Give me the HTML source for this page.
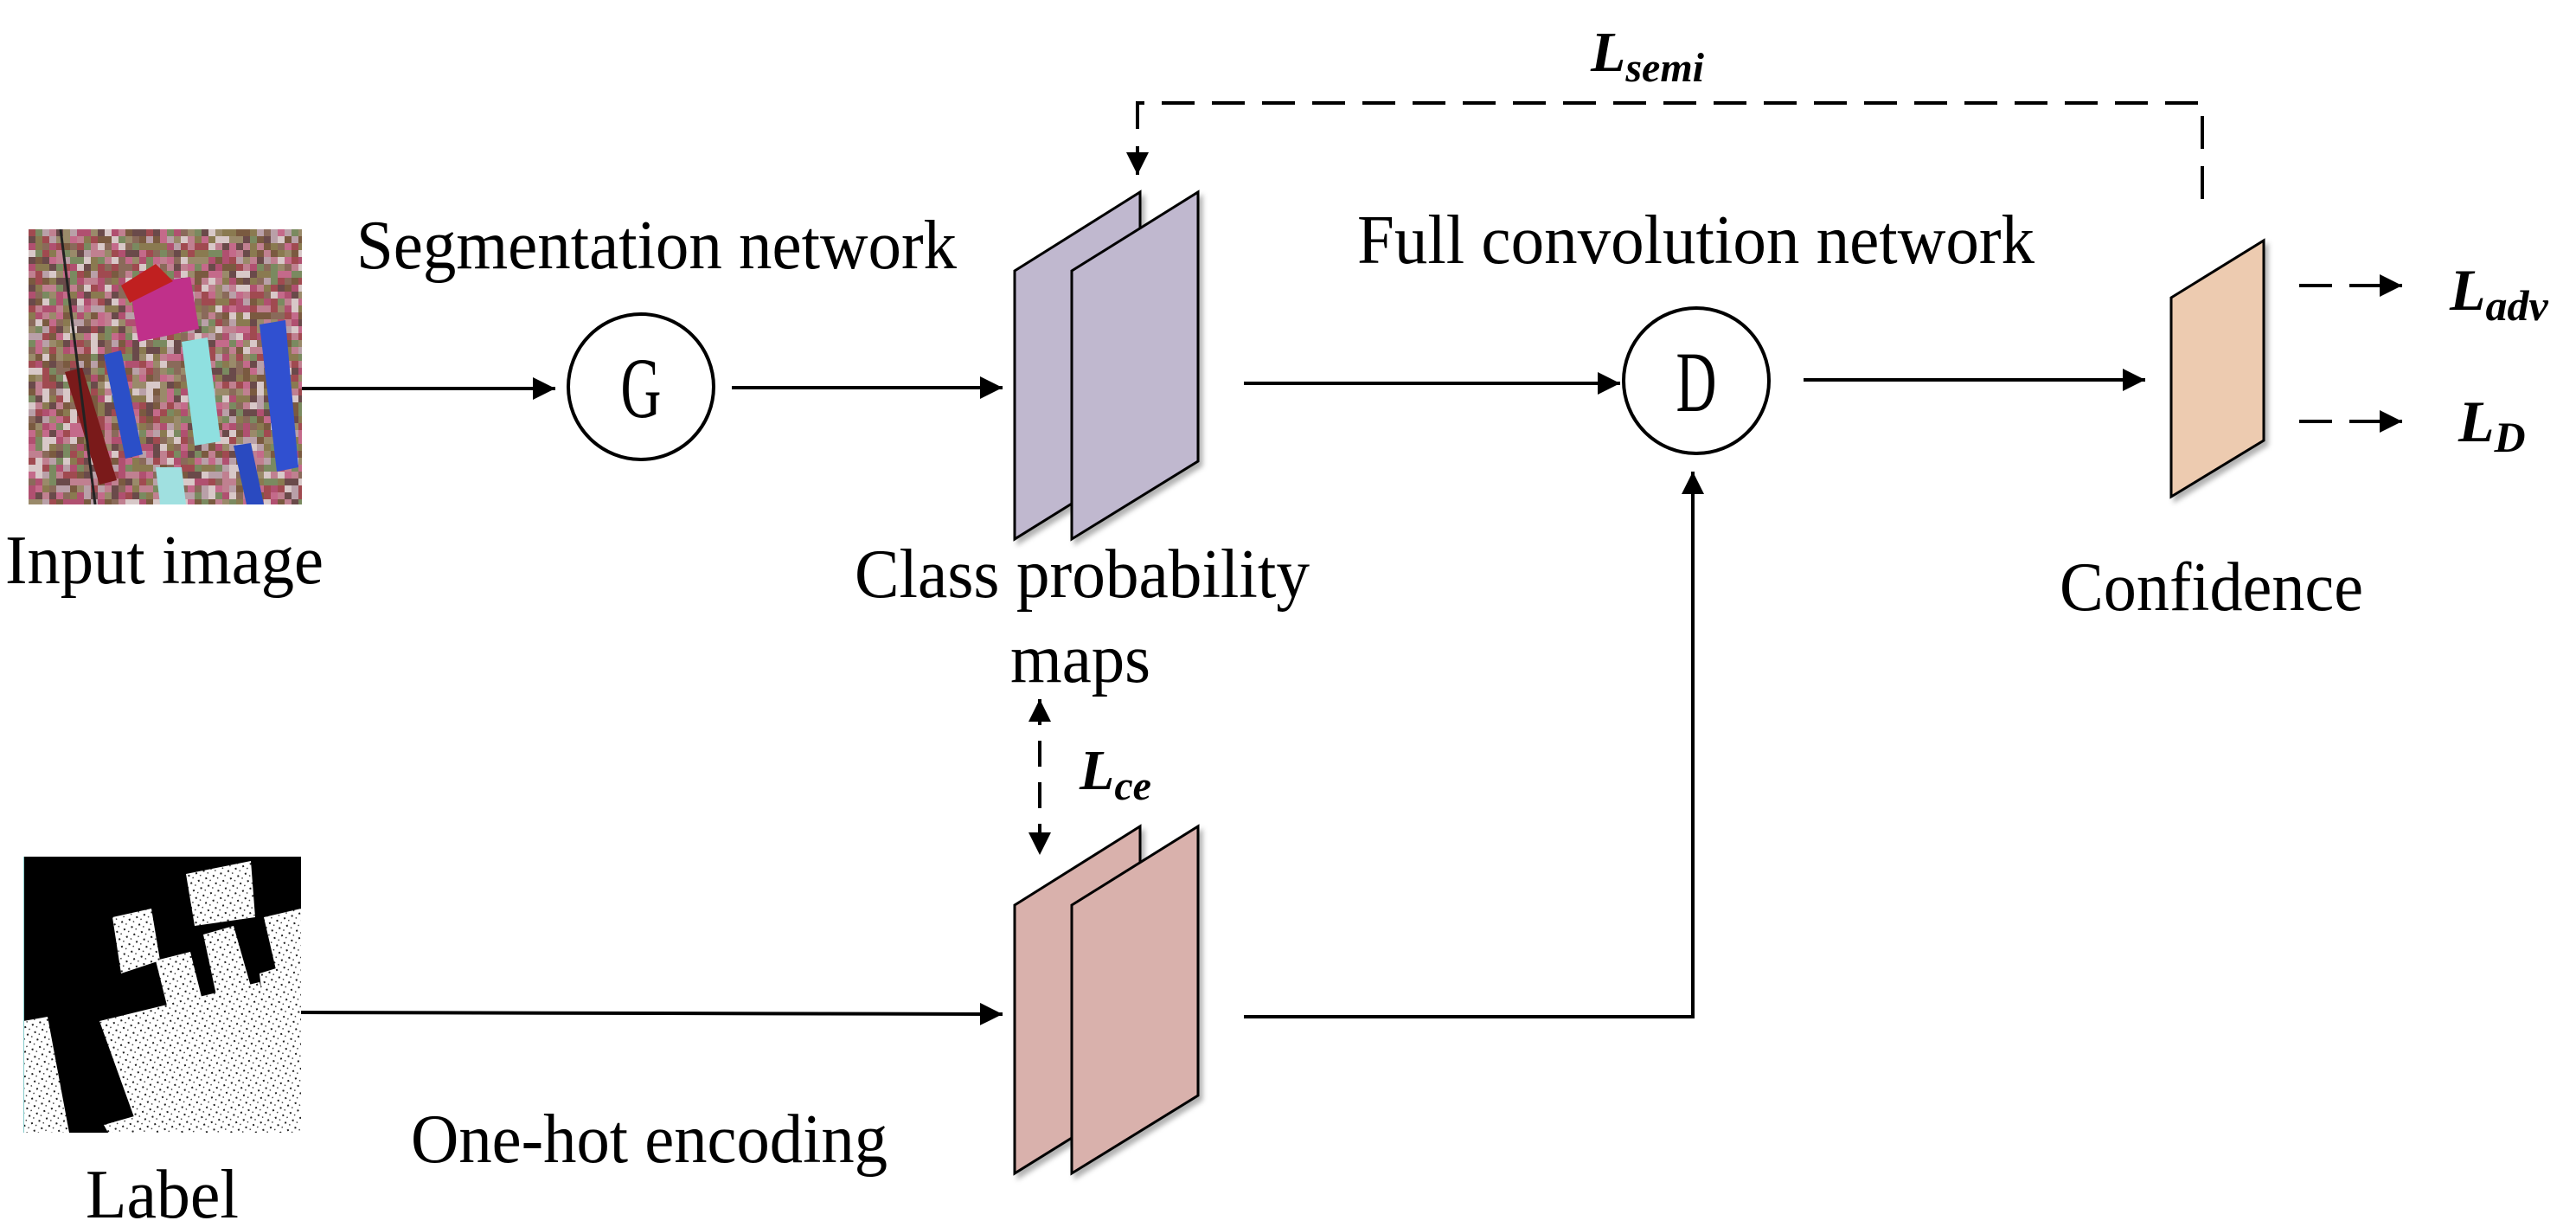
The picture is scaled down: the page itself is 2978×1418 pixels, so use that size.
<!DOCTYPE html>
<html><head><meta charset="utf-8"><style>
html,body{margin:0;padding:0;background:#fff}
svg{display:block}
text{font-family:"Liberation Serif",serif;fill:#000}
.m{font-weight:bold;font-style:italic}
</style></head><body>
<svg id="s" width="2978" height="1418" viewBox="0 0 2978 1418" xmlns="http://www.w3.org/2000/svg">
<defs>
<marker id="ah" viewBox="0 0 10 10" refX="10" refY="5" markerWidth="30" markerHeight="26" markerUnits="userSpaceOnUse" orient="auto-start-reverse"><path d="M0,0L10,5L0,10z"/></marker>
<filter id="sh" x="-20%" y="-20%" width="140%" height="140%"><feDropShadow dx="4" dy="5" stdDeviation="3" flood-color="#000" flood-opacity="0.3"/></filter>
<pattern id="dots" width="9" height="9" patternUnits="userSpaceOnUse" patternTransform="rotate(-18)"><rect width="9" height="9" fill="#fff"/><rect x="2" y="3" width="2" height="2" fill="#222"/><rect x="6" y="7" width="1.5" height="1.5" fill="#444"/></pattern>
<clipPath id="ci"><rect x="33" y="265" width="316" height="318"/></clipPath>
<clipPath id="cl"><rect x="27" y="990" width="321" height="319"/></clipPath>
</defs>

<g clip-path="url(#ci)" id="inimg"><rect x="33" y="265" width="316" height="318" fill="#9a6a68"/></g>

<g clip-path="url(#cl)">
<rect x="27" y="990" width="321" height="319" fill="#000"/>
<polygon points="115,1180 300,1135 335,1260 160,1305" fill="url(#dots)"/>
<polygon points="300,1125 348,1110 348,1300 320,1300" fill="url(#dots)"/>
<polygon points="120,1300 348,1235 348,1309 125,1309" fill="url(#dots)"/>
<polygon points="27,1180 55,1175 80,1309 27,1309" fill="url(#dots)"/>
<polygon points="130,1060 175,1050 185,1110 140,1125" fill="url(#dots)"/>
<polygon points="215,1010 290,995 295,1060 225,1070" fill="url(#dots)"/>
<polygon points="180,1110 220,1100 235,1160 195,1170" fill="url(#dots)"/>
<polygon points="235,1080 270,1070 290,1140 250,1150" fill="url(#dots)"/>
<polygon points="305,1060 348,1050 348,1120 320,1125" fill="url(#dots)"/>
<line x1="27" y1="990" x2="27" y2="1309" stroke="#8cc" stroke-width="2"/>
</g>

<g filter="url(#sh)" stroke="#000" stroke-width="3" stroke-linejoin="miter">
<polygon points="1173,313 1318,222 1318,533 1173,623" fill="#c0b8cf"/>
<polygon points="1239,313 1385,222 1385,533 1239,623" fill="#c0b8cf"/>
<polygon points="1173,1046 1318,955 1318,1266 1173,1356" fill="#d9b1ac"/>
<polygon points="1239,1046 1385,955 1385,1266 1239,1356" fill="#d9b1ac"/>
<polygon points="2510,344 2617,278 2617,509 2510,574" fill="#edcbb0"/>
</g>

<circle cx="741" cy="447" r="84" fill="#fff" stroke="#000" stroke-width="4"/>
<text x="741" y="482" font-size="100" text-anchor="middle" transform="translate(741 0) scale(0.65 1) translate(-741 0)">G</text>
<circle cx="1961" cy="440" r="84" fill="#fff" stroke="#000" stroke-width="4"/>
<text x="1961" y="475" font-size="100" text-anchor="middle" transform="translate(1961 0) scale(0.65 1) translate(-1961 0)">D</text>

<g stroke="#000" stroke-width="4" fill="none">
<line x1="349" y1="449" x2="642" y2="449" marker-end="url(#ah)"/>
<line x1="846" y1="448" x2="1159" y2="448" marker-end="url(#ah)"/>
<line x1="1438" y1="443" x2="1873" y2="443" marker-end="url(#ah)"/>
<line x1="2085" y1="439" x2="2480" y2="439" marker-end="url(#ah)"/>
<line x1="348" y1="1170" x2="1159" y2="1172" marker-end="url(#ah)"/>
<polyline points="1438,1175 1957,1175 1957,545" marker-end="url(#ah)"/>
</g>

<g stroke="#000" stroke-width="4" fill="none" stroke-dasharray="38,20">
<polyline points="2546,230 2546,119 1315,119 1315,202" marker-end="url(#ah)"/>
<line x1="2658" y1="330" x2="2777" y2="330" marker-end="url(#ah)"/>
<line x1="2658" y1="487" x2="2777" y2="487" marker-end="url(#ah)"/>
<line x1="1202" y1="808" x2="1202" y2="988" stroke-dasharray="30,18" marker-start="url(#ah)" marker-end="url(#ah)"/>
</g>

<g font-size="80">
<text x="412" y="310" textLength="694" lengthAdjust="spacingAndGlyphs">Segmentation network</text>
<text x="1569" y="304" textLength="783" lengthAdjust="spacingAndGlyphs">Full convolution network</text>
<text x="6" y="674" textLength="368" lengthAdjust="spacingAndGlyphs">Input image</text>
<text x="988" y="690" textLength="526" lengthAdjust="spacingAndGlyphs">Class probability</text>
<text x="1168" y="788" textLength="162" lengthAdjust="spacingAndGlyphs">maps</text>
<text x="2381" y="705" textLength="351" lengthAdjust="spacingAndGlyphs">Confidence</text>
<text x="475" y="1343" textLength="551" lengthAdjust="spacingAndGlyphs">One-hot encoding</text>
<text x="99" y="1407" textLength="177" lengthAdjust="spacingAndGlyphs">Label</text>
</g>
<g class="m">
<text x="1839" y="82" font-size="66">L<tspan font-size="48" dy="12">semi</tspan></text>
<text x="1248" y="912" font-size="66">L<tspan font-size="48" dy="12">ce</tspan></text>
<text x="2832" y="358" font-size="68">L<tspan font-size="50" dy="12">adv</tspan></text>
<text x="2842" y="510" font-size="68">L<tspan font-size="50" dy="12">D</tspan></text>
</g>
</svg>
<script>
(function(){
var g=document.getElementById('inimg');
var seed=7;function r(){seed=(seed*16807)%2147483647;return seed/2147483647;}
var pal=['#a04a50','#8a6a5a','#c08090','#b9a0a8','#7a5a40','#c46a8a','#9a8a6a','#d8c8c8','#6a4a4a','#b05070','#8a7a50','#7a8a60'];
var h='';
for(var y=265;y<583;y+=8){for(var x=33;x<349;x+=8){h+='<rect x="'+x+'" y="'+y+'" width="8" height="8" fill="'+pal[Math.floor(r()*pal.length)]+'"/>';}}
h+='<polygon points="120,410 140,405 165,525 145,530" fill="#2b4fc8"/>';
h+='<polygon points="210,395 240,390 255,510 225,515" fill="#8fe0e0"/>';
h+='<polygon points="300,375 330,370 345,540 320,545" fill="#3050d0"/>';
h+='<polygon points="270,515 290,512 305,583 285,583" fill="#2a4ac0"/>';
h+='<polygon points="75,430 95,425 135,555 115,560" fill="#7a1a1a"/>';
h+='<polygon points="150,330 220,320 230,380 160,395" fill="#c0308a"/>';
h+='<polygon points="140,330 180,305 200,325 150,350" fill="#c02020"/>';
h+='<polygon points="180,540 210,540 215,583 185,583" fill="#a0e0e0"/>';
h+='<line x1="70" y1="265" x2="110" y2="583" stroke="#222" stroke-width="3"/>';
g.insertAdjacentHTML('beforeend',h);
})();
</script>
</body></html>
